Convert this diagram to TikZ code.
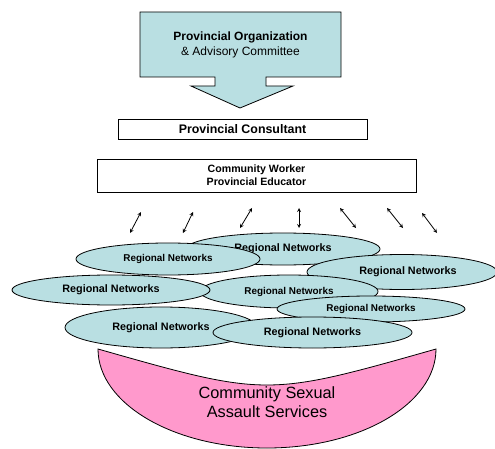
\documentclass[tikz,border=0pt]{standalone}
\usepackage{fontspec}
\setmainfont{Liberation Sans}
\usetikzlibrary{shapes.geometric, arrows, positioning}
\definecolor{netfill}{RGB}{185,223,226}
\definecolor{csasfill}{RGB}{255,153,204}

\begin{document}
\begin{tikzpicture}[x=1pt, y=-1pt,
    b/.style={rectangle, draw, line width=0.8pt, fill=white, inner sep=0pt, align=center},
    n/.style={ellipse, draw, line width=0.8pt, fill=netfill, inner sep=0pt, font=\fontsize{10.8}{12}\selectfont\bfseries},
    ns/.style={n, font=\fontsize{9.9}{12}\selectfont\bfseries},
    arrow/.style={line width=0.8pt,<->,>=stealth}]
    \useasboundingbox (0,0) rectangle (495,449);
    % organization box with its arrow pointing down
    \draw[line width=0.8pt, fill=netfill] (140,12) -- (341,12) -- (341,77) -- (266,77) -- (266,86) -- (293,86)
        -- (240,108) -- (191,86) -- (215,86) -- (215,77) -- (140,77) -- cycle;
    \node[align=center, font=\fontsize{12}{15}\selectfont] (org) at (240.5,45) {\textbf{Provincial Organization}\\\& Advisory Committee};
    \node[b, minimum width=249pt, minimum height=20pt, font=\fontsize{12.4}{14}\selectfont\bfseries] (cons) at (242.5,129) {Provincial Consultant};
    \node[b, minimum width=319pt, minimum height=33pt, font=\fontsize{10.6}{13}\selectfont\bfseries] (cw) at (256.5,175.5) {Community Worker\\Provincial Educator};
    % two-way links down to the networks
    \foreach \i/\xa/\ya/\xb/\yb in {1/141/212/130/233, 2/193/212/183/233, 3/252/208/240/228, 4/299/208/299/228,
        5/340/208/356/228, 6/387/208/403/228, 7/422/213/437/233} {
        \coordinate (u\i) at (\xa,\ya);
        \coordinate (d\i) at (\xb,\yb);
        \draw[arrow] (u\i) -- (d\i);
    }
    % regional networks, back to front
    \node[n, minimum width=194pt, minimum height=32pt] (r1) at (283,249) {Regional Networks};
    \node[ns, minimum width=184pt, minimum height=32pt] (r2) at (168,259) {Regional Networks};
    \node[n, minimum width=190pt, minimum height=35pt] (r3) at (402,272) {\hspace{12pt}Regional Networks};
    \node[ns, minimum width=178pt, minimum height=33pt] (r5) at (289,291.5) {Regional Networks};
    \node[n, minimum width=198pt, minimum height=30pt] (r4) at (111,290) {Regional Networks};
    \node[ns, minimum width=188pt, minimum height=26pt] (r6) at (371,309) {Regional Networks};
    \node[n, minimum width=192pt, minimum height=41pt] (r7) at (161,327.5) {Regional Networks};
    \node[n, minimum width=199pt, minimum height=31pt] (r8) at (312.5,332.5) {Regional Networks};
    % services bowl
    \draw[line width=0.8pt, fill=csasfill] (98,349) .. controls (267,397) .. (436,349)
        arc[start angle=0, end angle=180, x radius=169, y radius=99] -- cycle;
    \node[align=center, font=\fontsize{16.3}{19}\selectfont] (csas) at (267,402) {Community Sexual\\Assault Services};
\end{tikzpicture}
\end{document}
